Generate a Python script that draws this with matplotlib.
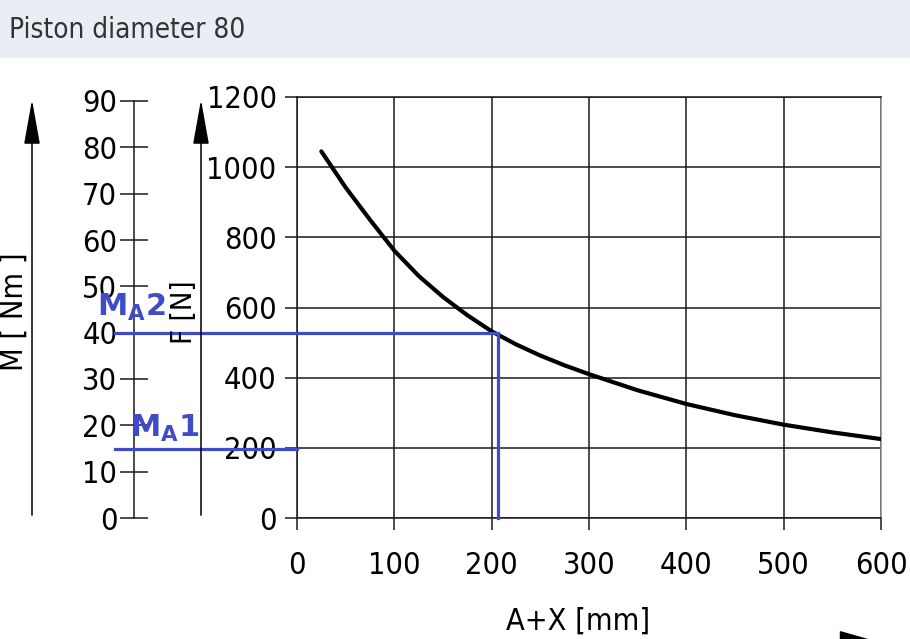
import matplotlib
matplotlib.use("Agg")
import matplotlib.pyplot as plt
from matplotlib.patches import Rectangle, FancyArrowPatch

# --- data ---
stroke_mm = [25, 50, 75, 100, 125, 150, 175, 200, 225, 250, 275, 300, 350, 400, 450, 500, 550, 600]
force_n = [1045, 942, 850, 762, 690, 630, 578, 532, 495, 463, 435, 410, 364, 325, 293, 266, 244, 225]
x_ticks = [0, 100, 200, 300, 400, 500, 600]
f_ticks = [0, 200, 400, 600, 800, 1000, 1200]
m_ticks = [0, 10, 20, 30, 40, 50, 60, 70, 80, 90]
ma_labels = ["$\\mathbf{M_A1}$", "$\\mathbf{M_A2}$"]
ma_values = [15, 40]          # Nm
ma_stroke = [0, 207]          # where each guide line stops on the x axis

W, H = 910, 639
BLUE = "#3F4CC6"
GRID = "#1a1a1a"
FONT = dict(family="DejaVu Sans", stretch="condensed")
TICK_SIZE = 22

plt.rcParams["mathtext.fontset"] = "dejavusans"


def fx(px):
    return px / W


def fy(py):
    return 1 - py / H


fig = plt.figure(figsize=(W / 100, H / 100), dpi=100)
fig.patch.set_facecolor("white")

# header band
fig.patches.append(Rectangle((0, fy(57)), 1, 57 / H, transform=fig.transFigure,
                             color="#E9EEF5", zorder=0))
fig.text(fx(9), fy(30), "Piston diameter 80", fontsize=20, color="#333333",
         va="center", ha="left", **FONT)

# --- main F axes ---
ax_l, ax_r, ax_t, ax_b = 297, 881, 97, 518
ax = fig.add_axes([fx(ax_l), fy(ax_b), (ax_r - ax_l) / W, (ax_b - ax_t) / H])
ax.plot(stroke_mm, force_n, color="black", lw=3, solid_capstyle="round",
        solid_joinstyle="round", zorder=5)
ax.set_xlim(0, 600)
ax.set_ylim(0, 1200)
ax.set_xticks(x_ticks)
ax.set_yticks(f_ticks)
ax.grid(True, color=GRID, lw=1.1)
for s in ax.spines.values():
    s.set_color(GRID)
    s.set_linewidth(1.1)
ax.spines["right"].set_color("#888888")
ax.tick_params(direction="out", length=8.6, width=1.1, color=GRID)
ax.tick_params(axis="x", pad=15)
ax.tick_params(axis="y", pad=6)
for lab in ax.get_xticklabels() + ax.get_yticklabels():
    lab.set_fontproperties(dict(FONT, size=TICK_SIZE))

# --- M axes (left scale), shares the x mapping of the main axes ---
m_l, m_t = 134, 101
axm = fig.add_axes([fx(m_l), fy(ax_b), (ax_r - m_l) / W, (ax_b - m_t) / H])
axm.patch.set_visible(False)
axm.set_xlim(-600 * (ax_l - m_l) / (ax_r - ax_l), 600)
axm.set_ylim(0, 90)
axm.set_yticks(m_ticks)
axm.set_xticks([])
for side in ["top", "right", "bottom"]:
    axm.spines[side].set_visible(False)
axm.spines["left"].set_color(GRID)
axm.spines["left"].set_linewidth(1.1)
axm.tick_params(axis="y", direction="inout", length=20, width=1.1, color=GRID, pad=2)
for lab in axm.get_yticklabels():
    lab.set_fontproperties(dict(FONT, size=TICK_SIZE))

# blue guide lines for M_A1 / M_A2
x_start = -600 * (ax_l - 115) / (ax_r - ax_l)
label_right_px = [199, 166]   # right edge of each label
label_gap = [0.9, 2.0]        # gap above its line (Nm)
for lab, m, xs, rpx, gap in zip(ma_labels, ma_values, ma_stroke, label_right_px, label_gap):
    axm.plot([x_start, xs], [m, m], color=BLUE, lw=2.3, clip_on=False, zorder=4)
    if xs > 0:
        axm.plot([xs, xs], [0, m], color=BLUE, lw=2.3, clip_on=False, zorder=4)
    axm.text(-600 * (ax_l - rpx) / (ax_r - ax_l), m + gap, lab, color=BLUE,
             fontsize=22, ha="right", va="bottom", clip_on=False)

# axis arrows and labels
for x in (32, 201):
    fig.add_artist(FancyArrowPatch((fx(x), fy(ax_b)), (fx(x), fy(97)),
                                   transform=fig.transFigure,
                                   arrowstyle="-|>,head_length=1.4,head_width=0.25",
                                   mutation_scale=20, lw=1.1, color="black"))
fig.add_artist(FancyArrowPatch((fx(295), fy(643)), (fx(885), fy(643)),
                               transform=fig.transFigure,
                               arrowstyle="-|>,head_length=1.4,head_width=0.4",
                               mutation_scale=20, lw=1.1, color="black"))

fig.text(fx(14), fy(312), "M [ Nm ]", rotation=90, fontsize=22,
         ha="center", va="center", **FONT)
fig.text(fx(184), fy(312), "F [N]", rotation=90, fontsize=21,
         ha="center", va="center", **FONT)
fig.text(fx(578), fy(621), "A+X [mm]", fontsize=22,
         ha="center", va="center", **FONT)

fig.savefig("out.png", dpi=100)
